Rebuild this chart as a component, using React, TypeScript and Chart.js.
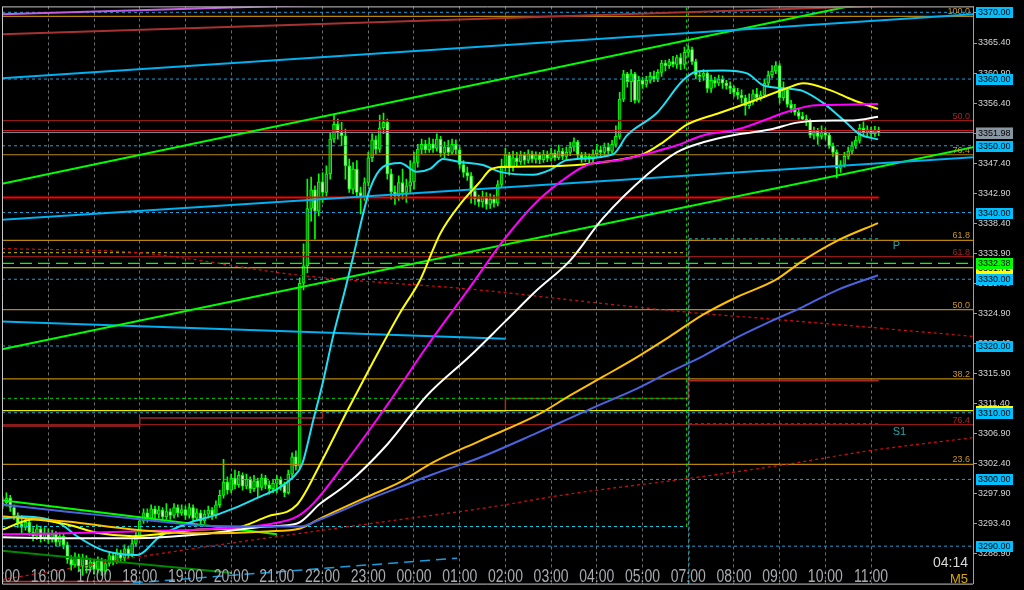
import React, { useEffect, useRef } from "react";
import { Chart, registerables } from "chart.js";

Chart.register(...registerables);

// ---------- DATA ----------
// M5 candles [open, high, low, close]; bar index 0 = 16:00, one bar every 5 min (06:00 hour absent)
const firstBar = -12;
const candles: number[][] = [
  // 15:00
  [3296.0, 3297.4, 3295.6, 3296.5], [3296.5, 3298.0, 3296.0, 3297.2], [3297.2, 3297.6, 3295.2, 3295.8], [3295.8, 3296.2, 3294.0, 3294.6],
  [3294.6, 3295.0, 3292.8, 3293.4], [3293.4, 3294.6, 3292.0, 3292.8], [3292.8, 3294.2, 3292.4, 3293.6], [3293.6, 3294.0, 3291.6, 3292.1],
  [3292.1, 3292.8, 3290.8, 3291.5], [3291.5, 3293.2, 3291.0, 3292.6], [3292.6, 3293.0, 3290.6, 3291.2], [3291.2, 3292.8, 3290.8, 3292.0],
  // 16:00
  [3292.0, 3292.6, 3290.4, 3291.0], [3291.0, 3292.4, 3290.6, 3291.8], [3291.8, 3292.2, 3290.0, 3290.6], [3290.6, 3292.0, 3290.0, 3291.5],
  [3291.5, 3291.8, 3289.6, 3290.2], [3290.2, 3290.6, 3287.4, 3288.0], [3288.0, 3288.6, 3286.4, 3287.2], [3287.2, 3289.0, 3286.8, 3288.4],
  [3288.4, 3288.8, 3286.2, 3287.0], [3287.0, 3288.8, 3285.6, 3288.2], [3288.2, 3288.6, 3286.0, 3286.8], [3286.8, 3288.2, 3286.2, 3287.6],
  // 17:00
  [3287.6, 3288.0, 3285.8, 3286.5], [3286.5, 3288.4, 3286.0, 3287.8], [3287.8, 3288.2, 3285.6, 3286.2], [3286.2, 3288.0, 3285.8, 3287.4],
  [3287.4, 3289.2, 3287.0, 3288.6], [3288.6, 3289.0, 3287.2, 3287.8], [3287.8, 3289.6, 3287.4, 3289.0], [3289.0, 3289.4, 3287.6, 3288.2],
  [3288.2, 3290.2, 3287.8, 3289.6], [3289.6, 3290.0, 3288.2, 3288.8], [3288.8, 3291.0, 3288.4, 3290.4], [3290.4, 3292.2, 3290.0, 3291.6],
  // 18:00
  [3291.6, 3294.4, 3291.2, 3293.8], [3293.8, 3295.6, 3293.4, 3295.0], [3295.0, 3295.6, 3293.6, 3294.2], [3294.2, 3296.2, 3293.8, 3295.6],
  [3295.6, 3296.0, 3294.2, 3294.8], [3294.8, 3296.0, 3294.2, 3295.4], [3295.4, 3295.8, 3293.8, 3294.4], [3294.4, 3296.4, 3294.0, 3295.2],
  [3295.2, 3295.6, 3294.0, 3294.6], [3294.6, 3296.4, 3294.2, 3295.8], [3295.8, 3296.2, 3294.4, 3295.0], [3295.0, 3296.2, 3294.6, 3295.5],
  // 19:00
  [3295.5, 3296.0, 3294.0, 3294.6], [3294.6, 3296.4, 3294.2, 3295.8], [3295.8, 3296.2, 3293.6, 3294.2], [3294.2, 3295.6, 3293.8, 3295.0],
  [3295.0, 3295.4, 3293.2, 3293.8], [3293.8, 3295.4, 3293.4, 3294.8], [3294.8, 3296.0, 3294.2, 3295.4], [3295.4, 3295.8, 3294.0, 3294.6],
  [3294.6, 3296.8, 3294.2, 3296.2], [3296.2, 3298.4, 3295.8, 3297.6], [3297.6, 3303.0, 3297.2, 3299.6], [3299.6, 3300.4, 3297.8, 3298.4],
  // 20:00
  [3298.4, 3300.8, 3298.0, 3300.2], [3300.2, 3301.4, 3298.6, 3299.2], [3299.2, 3301.2, 3298.8, 3300.6], [3300.6, 3301.0, 3298.4, 3299.0],
  [3299.0, 3300.8, 3298.6, 3300.0], [3300.0, 3300.4, 3298.0, 3298.6], [3298.6, 3300.6, 3298.2, 3299.8], [3299.8, 3300.2, 3297.4, 3298.8],
  [3298.8, 3300.8, 3298.4, 3300.2], [3300.2, 3300.6, 3298.6, 3299.2], [3299.2, 3299.8, 3297.8, 3298.6], [3298.6, 3300.0, 3298.0, 3299.4],
  // 21:00
  [3299.4, 3300.6, 3298.0, 3300.0], [3300.0, 3300.4, 3298.4, 3299.2], [3299.2, 3299.6, 3297.4, 3298.0], [3298.0, 3301.4, 3297.8, 3300.8],
  [3300.8, 3304.0, 3300.4, 3303.4], [3303.4, 3304.3, 3301.4, 3302.0], [3302.0, 3330.2, 3301.6, 3329.4], [3329.4, 3335.3, 3328.4, 3332.0],
  [3332.0, 3345.0, 3331.0, 3340.6], [3340.6, 3345.3, 3338.7, 3343.4], [3343.4, 3344.0, 3336.0, 3340.2], [3340.2, 3345.8, 3339.5, 3344.6],
  // 22:00
  [3344.6, 3346.0, 3341.5, 3343.0], [3343.0, 3347.0, 3342.5, 3345.8], [3345.8, 3352.0, 3345.0, 3351.0], [3351.0, 3354.6, 3350.5, 3353.2],
  [3353.2, 3354.0, 3351.0, 3352.0], [3352.0, 3353.5, 3350.0, 3351.5], [3351.5, 3352.5, 3345.0, 3347.0], [3347.0, 3348.0, 3343.0, 3343.5],
  [3343.5, 3347.5, 3342.8, 3346.5], [3346.5, 3347.8, 3342.2, 3343.0], [3343.0, 3343.8, 3339.8, 3342.4], [3342.4, 3345.2, 3341.8, 3344.5],
  // 23:00
  [3344.5, 3349.0, 3344.0, 3348.2], [3348.2, 3351.8, 3347.6, 3350.9], [3350.9, 3351.5, 3348.8, 3349.5], [3349.5, 3354.6, 3349.0, 3352.7],
  [3352.7, 3354.9, 3351.8, 3353.5], [3353.5, 3354.0, 3345.0, 3345.8], [3345.8, 3346.5, 3342.0, 3343.1], [3343.1, 3344.0, 3341.2, 3342.5],
  [3342.5, 3345.5, 3341.8, 3344.5], [3344.5, 3346.5, 3342.0, 3343.0], [3343.0, 3345.0, 3341.5, 3344.0], [3344.0, 3347.8, 3343.0, 3344.6],
  // 00:00
  [3344.6, 3349.0, 3343.5, 3347.5], [3347.5, 3350.2, 3346.8, 3349.5], [3349.5, 3351.0, 3348.8, 3350.2], [3350.2, 3350.8, 3348.9, 3349.4],
  [3349.4, 3351.2, 3349.0, 3350.3], [3350.3, 3351.0, 3349.0, 3349.6], [3349.6, 3351.8, 3349.2, 3351.0], [3351.0, 3351.4, 3348.4, 3348.9],
  [3348.9, 3350.6, 3348.2, 3349.8], [3349.8, 3350.8, 3348.5, 3349.0], [3349.0, 3351.0, 3348.7, 3350.2], [3350.2, 3350.9, 3348.8, 3349.4],
  // 01:00
  [3349.4, 3349.8, 3346.6, 3347.2], [3347.2, 3347.8, 3345.3, 3346.0], [3346.0, 3346.8, 3344.8, 3345.5], [3345.5, 3346.0, 3341.4, 3343.2],
  [3343.2, 3343.8, 3341.2, 3342.0], [3342.0, 3342.6, 3340.9, 3341.6], [3341.6, 3343.2, 3340.8, 3342.4], [3342.4, 3343.0, 3340.5, 3341.2],
  [3341.2, 3342.8, 3340.6, 3342.0], [3342.0, 3342.6, 3340.8, 3341.4], [3341.4, 3344.8, 3341.0, 3344.2], [3344.2, 3348.0, 3343.8, 3347.0],
  // 02:00
  [3347.0, 3349.6, 3346.2, 3348.6], [3348.6, 3349.0, 3345.6, 3346.8], [3346.8, 3349.2, 3346.2, 3348.2], [3348.2, 3349.0, 3347.0, 3347.6],
  [3347.6, 3349.2, 3347.2, 3348.6], [3348.6, 3349.0, 3347.2, 3347.8], [3347.8, 3349.4, 3347.4, 3348.8], [3348.8, 3349.2, 3347.5, 3348.0],
  [3348.0, 3349.1, 3347.4, 3348.6], [3348.6, 3349.0, 3347.3, 3347.9], [3347.9, 3349.3, 3347.5, 3348.7], [3348.7, 3349.2, 3347.6, 3348.1],
  // 03:00
  [3348.1, 3349.6, 3347.7, 3348.9], [3348.9, 3349.4, 3347.8, 3348.2], [3348.2, 3350.1, 3347.9, 3349.2], [3349.2, 3349.6, 3347.9, 3348.4],
  [3348.4, 3349.8, 3348.0, 3349.0], [3349.0, 3350.5, 3348.5, 3349.8], [3349.8, 3351.2, 3349.2, 3350.6], [3350.6, 3350.8, 3348.0, 3348.6],
  [3348.6, 3349.0, 3347.5, 3348.0], [3348.0, 3349.0, 3347.6, 3348.4], [3348.4, 3348.8, 3347.4, 3348.0], [3348.0, 3349.4, 3347.6, 3348.8],
  // 04:00
  [3348.8, 3350.2, 3348.4, 3349.4], [3349.4, 3350.0, 3348.5, 3349.0], [3349.0, 3350.4, 3348.6, 3349.8], [3349.8, 3350.4, 3348.8, 3349.2],
  [3349.2, 3350.8, 3348.9, 3350.2], [3350.2, 3353.0, 3349.8, 3351.4], [3351.4, 3358.0, 3351.0, 3357.0], [3357.0, 3361.3, 3356.6, 3360.8],
  [3360.8, 3361.0, 3358.8, 3359.6], [3359.6, 3361.4, 3356.6, 3360.8], [3360.8, 3361.0, 3356.4, 3356.8], [3356.8, 3360.4, 3356.5, 3359.8],
  // 05:00
  [3359.8, 3360.3, 3358.6, 3359.2], [3359.2, 3360.4, 3358.8, 3359.8], [3359.8, 3361.0, 3359.4, 3360.4], [3360.4, 3361.2, 3359.6, 3360.0],
  [3360.0, 3361.4, 3359.6, 3361.0], [3361.0, 3362.8, 3360.4, 3362.4], [3362.4, 3362.8, 3361.2, 3362.0], [3362.0, 3363.0, 3361.6, 3362.6],
  [3362.6, 3363.4, 3361.8, 3362.2], [3362.2, 3363.6, 3361.6, 3363.2], [3363.2, 3363.8, 3361.4, 3362.2], [3362.2, 3364.8, 3361.6, 3364.0],
  // 07:00
  [3364.0, 3365.0, 3363.4, 3364.4], [3364.4, 3364.8, 3362.2, 3362.6], [3362.6, 3363.0, 3360.0, 3360.6], [3360.6, 3361.2, 3359.6, 3360.4],
  [3360.4, 3361.4, 3359.8, 3360.9], [3360.9, 3361.2, 3358.0, 3358.6], [3358.6, 3360.6, 3358.0, 3359.8], [3359.8, 3360.3, 3358.8, 3359.4],
  [3359.4, 3360.6, 3359.0, 3360.0], [3360.0, 3360.5, 3358.6, 3359.4], [3359.4, 3359.8, 3358.5, 3359.0], [3359.0, 3359.6, 3357.8, 3358.6],
  // 08:00
  [3358.6, 3359.0, 3357.4, 3358.0], [3358.0, 3358.6, 3357.0, 3357.6], [3357.6, 3358.4, 3356.4, 3357.2], [3357.2, 3357.6, 3354.6, 3356.0],
  [3356.0, 3357.8, 3355.6, 3356.6], [3356.6, 3358.4, 3356.2, 3357.8], [3357.8, 3358.6, 3356.6, 3357.2], [3357.2, 3358.2, 3356.8, 3357.6],
  [3357.6, 3360.0, 3357.2, 3359.4], [3359.4, 3361.2, 3359.0, 3360.6], [3360.6, 3362.0, 3360.2, 3361.2], [3361.2, 3362.6, 3360.8, 3362.0],
  // 09:00
  [3362.0, 3362.3, 3356.4, 3357.2], [3357.2, 3359.6, 3356.8, 3358.4], [3358.4, 3358.8, 3355.8, 3356.2], [3356.2, 3356.8, 3355.0, 3355.6],
  [3355.6, 3356.2, 3354.6, 3355.0], [3355.0, 3355.6, 3354.0, 3354.4], [3354.4, 3355.0, 3353.6, 3354.0], [3354.0, 3354.6, 3353.0, 3353.6],
  [3353.6, 3354.0, 3351.2, 3351.6], [3351.6, 3352.8, 3351.0, 3352.2], [3352.2, 3352.6, 3350.2, 3351.4], [3351.4, 3353.0, 3351.0, 3352.0],
  // 10:00
  [3352.0, 3352.6, 3351.0, 3351.6], [3351.6, 3352.0, 3349.6, 3350.0], [3350.0, 3350.4, 3348.4, 3349.0], [3349.0, 3349.4, 3345.2, 3346.6],
  [3346.6, 3347.8, 3346.0, 3347.2], [3347.2, 3349.0, 3346.8, 3348.4], [3348.4, 3349.8, 3348.0, 3349.2], [3349.2, 3350.6, 3348.8, 3350.0],
  [3350.0, 3351.4, 3349.6, 3350.8], [3350.8, 3353.2, 3350.4, 3352.6], [3352.6, 3353.6, 3351.6, 3352.0], [3352.0, 3353.0, 3351.4, 3352.4],
  // 11:00
  [3352.4, 3352.8, 3351.2, 3351.8], [3351.8, 3352.9, 3351.4, 3352.4], [3352.4, 3352.8, 3351.5, 3351.98],
];

const hourBars = [-12, 0, 12, 24, 36, 48, 60, 72, 84, 96, 108, 120, 132, 144, 156, 168, 180, 192, 204, 216];
const hourLabels = ["15:00", "16:00", "17:00", "18:00", "19:00", "20:00", "21:00", "22:00", "23:00", "00:00",
  "01:00", "02:00", "03:00", "04:00", "05:00", "07:00", "08:00", "09:00", "10:00", "11:00"];

const priceTicks = [3288.9, 3293.4, 3297.9, 3302.4, 3306.9, 3311.4, 3315.9, 3320.4, 3324.9, 3329.4,
  3333.9, 3338.4, 3342.9, 3347.4, 3351.9, 3356.4, 3360.9, 3365.4, 3369.9];
const roundLevels = [3370, 3360, 3350, 3340, 3330, 3320, 3310, 3300, 3290];

const bidPrice = 3351.98;
const askPrice = 3352.29;
const supportLevel = 3342.25;
const greenLevel = 3332.38;
const yellowLevels = [3331.72, 3310.3];

// Fibonacci retracements
const fibGoldRange = [3281.5, 3369.4]; // 0% , 100%
const fibGoldLevels = [100, 76.4, 61.8, 50, 38.2, 23.6];
const fibRedRange = [3440.04, 3267.48]; // 0% , 100%
const fibRedLevels = [50, 61.8, 76.4];

// previous-day pivot levels (end at the session line) and current pivots
const prevOlive = 3333.99;
const prevGreen = 3312.14;
const prevCyan = 3292.95;
const sessionBar = 167.6;
const pivotStartBar = 168.2;
const pivotP = 3336.05;
const pivotS1 = 3308.3;

// H4 step indicator
const h4Bars = [-12.16, 24, 72, 120, 168, 218];
const h4Values = [3308.0, 3309.2, 3310.2, 3312.14, 3314.8, 3314.8];

// trend lines [bar, price]
const trendRedTop = [[-12.16, 3366.7], [242.8, 3371.4]];
const trendVioletTop = [[-12.16, 3369.7], [80, 3371.26]];
const trendBlueUpper = [[-12.16, 3360.1], [242.8, 3369.7]];
const trendLimeUpper = [[-12.16, 3344.3], [242.8, 3374.8]];
const trendBlueMid = [[-12.16, 3338.9], [242.8, 3348.3]];
const trendLimeLower = [[-12.16, 3319.5], [242.8, 3349.8]];
const trendBlueShort = [[-12.16, 3323.65], [120, 3321.1]];
const trendLimeBottom = [[-12.16, 3296.9], [60, 3291.8]];
const trendGreenBottom = [[-12.16, 3289.3], [48, 3286.0]];
const trendBlueDashed = [[22.2, 3284.5], [107.3, 3288.2]];
const redBottomBox = [[-12.16, 3284.7], [23.8, 3284.7]];

const envelopeUpper = [[-12.16, 3334.6], [24.08, 3333.95], [66.08, 3330.59], [113.34, 3328.38], [144.05, 3326.46],
  [166.63, 3325.13], [198.14, 3323.65], [242.8, 3321.44]];
const envelopeLower = [[-12.16, 3285.0], [4.91, 3286.6], [28.54, 3288.82], [66.08, 3291.92], [92.34, 3293.99],
  [113.34, 3295.61], [136.97, 3297.83], [166.63, 3300.04], [192.1, 3302.11], [215.7, 3304.32], [242.8, 3306.26]];

// moving averages [bar, price]
const cyanMA = [[-11.89, 3294.13], [-6.64, 3294.43], [3.07, 3293.39], [7.54, 3291.48], [13.57, 3289.56], [18.82, 3288.82],
  [23.29, 3288.67], [29.33, 3291.48], [36.41, 3293.39], [45.08, 3294.87], [53.74, 3296.94], [64.24, 3300.33], [66.61, 3302.25],
  [69.5, 3308.75], [72.12, 3314.65], [74.75, 3321.44], [77.9, 3328.38], [79.99, 3333.25], [82.62, 3339.74], [84.46, 3343.58],
  [87.87, 3346.83], [92.34, 3347.42], [96.8, 3346.09], [100.21, 3346.53], [103.63, 3348.01], [108.09, 3347.56], [114.13, 3347.12],
  [118.59, 3346.09], [127.25, 3345.65], [131.72, 3346.38], [136.18, 3347.86], [148.26, 3348.74], [151.93, 3351.55], [159.81, 3354.94],
  [166.63, 3359.81], [170.31, 3361.14], [177.14, 3361.29], [183.44, 3360.85], [187.64, 3359.08], [192.89, 3358.63], [198.14, 3358.19],
  [203.39, 3356.42], [208.65, 3353.91], [213.11, 3351.7], [217.83, 3350.96]];
const yellowMA = [[-11.89, 3292.51], [-4.02, 3293.99], [4.91, 3293.25], [13.57, 3291.92], [22.24, 3291.48], [31.16, 3291.92],
  [39.83, 3292.51], [48.49, 3292.66], [57.42, 3294.43], [65.29, 3296.2], [71.33, 3302.25], [78.42, 3310.22], [85.25, 3317.6],
  [92.34, 3324.98], [97.59, 3329.85], [102.84, 3336.79], [108.09, 3341.22], [113.34, 3344.61], [115.96, 3346.38], [119.38, 3346.83],
  [128.3, 3346.9], [138.81, 3347.12], [149.31, 3347.86], [156.13, 3348.74], [161.38, 3350.52], [167.68, 3353.17], [176.35, 3354.94],
  [185.01, 3356.71], [193.94, 3358.63], [198.14, 3359.37], [205.23, 3358.34], [211.27, 3356.86], [217.83, 3355.53]];
const magentaMA = [[-11.89, 3291.77], [4.91, 3291.92], [22.24, 3292.21], [39.83, 3292.51], [57.42, 3293.25], [65.29, 3294.43],
  [69.5, 3296.35], [78.42, 3302.84], [88.92, 3311.11], [99.42, 3319.96], [110.71, 3328.82], [119.38, 3335.76], [128.3, 3341.66],
  [136.97, 3345.65], [141.43, 3347.12], [150.09, 3347.86], [158.76, 3349.04], [165.06, 3350.07], [171.89, 3351.55], [180.81, 3352.43],
  [187.64, 3353.76], [193.94, 3355.09], [199.98, 3355.98], [205.23, 3356.12], [217.83, 3356.27]];
const whiteMA = [[-11.89, 3291.33], [4.91, 3291.18], [22.24, 3291.18], [39.83, 3291.77], [57.42, 3292.95], [65.29, 3293.39],
  [71.33, 3296.35], [78.42, 3299.3], [88.92, 3305.2], [99.42, 3312.58], [110.71, 3318.49], [119.9, 3323.65], [128.3, 3328.38],
  [136.97, 3332.8], [145.63, 3339.15], [157.18, 3345.65], [165.06, 3349.04], [171.89, 3350.52], [180.81, 3351.7], [189.48, 3352.43],
  [196.56, 3353.47], [202.6, 3353.76], [211.27, 3353.8], [217.83, 3354.35]];
const orangeMA = [[-11.89, 3294.43], [4.91, 3293.69], [22.24, 3292.51], [39.83, 3291.92], [57.42, 3292.21], [66.08, 3292.66],
  [71.33, 3294.13], [83.67, 3297.38], [92.34, 3299.59], [101.0, 3302.55], [113.34, 3305.79], [128.3, 3309.63], [136.97, 3312.58],
  [145.63, 3315.39], [154.56, 3318.34], [163.22, 3321.44], [171.89, 3324.69], [180.81, 3327.34], [190.79, 3329.85], [198.14, 3332.8],
  [207.07, 3335.76], [217.83, 3338.41]];
const blueMA = [[-11.89, 3296.2], [4.91, 3295.17], [22.24, 3294.13], [29.33, 3293.69], [39.83, 3293.1], [57.42, 3292.95],
  [66.08, 3292.95], [71.33, 3293.99], [83.67, 3296.94], [92.34, 3298.85], [101.0, 3300.77], [113.34, 3303.28], [128.3, 3306.97],
  [136.97, 3309.19], [145.63, 3311.4], [154.56, 3313.62], [163.22, 3316.13], [171.89, 3318.49], [180.81, 3321.29], [189.48, 3323.65],
  [198.14, 3325.87], [207.07, 3328.38], [217.83, 3330.59]];

const timerText = "04:14";
const periodText = "M5";

// ---------- CHART ----------
const X_MIN = -12.16;
const X_MAX = 242.76;
const Y_MIN = 3284.39;
const Y_MAX = 3370.886;
const FONT = '"Liberation Sans", Arial, sans-serif';

const GOLD = "#b8860b";
const DARKRED = "#8e1a1a";
const CYANLVL = "#1aa0dc";

const lastBar = firstBar + candles.length - 1;
const pts = (arr: number[][]) => arr.map(([x, y]) => ({ x, y }));

function lineDs(data: number[][], color: string, width: number, extra: any = {}) {
  return {
    type: "line",
    data: pts(data),
    borderColor: color,
    borderWidth: width,
    pointRadius: 0,
    fill: false,
    tension: 0,
    order: 20,
    ...extra,
  };
}
const hLine = (price: number, from: number, to: number, color: string, width: number, dash: number[] = [], order = 25) =>
  lineDs([[from, price], [to, price]], color, width, { borderDash: dash, order });
const vLine = (bar: number, p0: number, p1: number, color: string, dash: number[]) =>
  lineDs([[bar, p0], [bar, p1]], color, 1, { borderDash: dash, order: 24 });

const fibGoldPrice = (l: number) => fibGoldRange[0] + (l / 100) * (fibGoldRange[1] - fibGoldRange[0]);
const fibRedPrice = (l: number) => fibRedRange[0] + (l / 100) * (fibRedRange[1] - fibRedRange[0]);

function buildDatasets(): any[] {
  const ds: any[] = [];
  const bull = "#127a12";
  const bear = "#c6ffb4";
  ds.push({
    type: "bar",
    data: candles.map((c, i) => ({ x: firstBar + i, y: [c[2], c[1]] })),
    backgroundColor: "#00ff00",
    barThickness: 1,
    grouped: false,
    borderSkipped: false,
    order: 41,
  });
  ds.push({
    type: "bar",
    data: candles.map((c, i) => ({ x: firstBar + i, y: [c[0], c[3]] })),
    backgroundColor: candles.map((c) => (c[3] >= c[0] ? bull : bear)),
    borderColor: "#00ff00",
    borderWidth: 1,
    barThickness: 3,
    minBarLength: 1,
    grouped: false,
    borderSkipped: false,
    order: 40,
  });

  roundLevels.forEach((v) => ds.push(hLine(v, X_MIN, X_MAX, CYANLVL, 1, [3, 3], 30)));
  fibGoldLevels.forEach((l) => ds.push(hLine(fibGoldPrice(l), X_MIN, X_MAX, GOLD, 1.2)));
  fibRedLevels.forEach((l) => ds.push(hLine(fibRedPrice(l), X_MIN, X_MAX, DARKRED, 1.2)));
  ds.push(hLine(askPrice, X_MIN, X_MAX, "#d01818", 1.2));
  ds.push(hLine(bidPrice, X_MIN, X_MAX, "#7c8894", 1));
  ds.push(hLine(supportLevel, X_MIN, lastBar, "#ff0000", 2.2));
  ds.push(hLine(prevOlive, X_MIN, sessionBar, "#a8a000", 1.2, [3, 3]));
  ds.push(hLine(prevGreen, X_MIN, sessionBar, "#00b000", 1.2, [3, 3]));
  ds.push(hLine(prevCyan, X_MIN, sessionBar, "#10d0e8", 1, [3, 3]));
  ds.push(hLine(greenLevel, X_MIN, X_MAX, "#00ff00", 1.2, [12, 6]));
  yellowLevels.forEach((v) => ds.push(hLine(v, X_MIN, X_MAX, "#e8e800", 1.2)));
  ds.push(hLine(pivotP, pivotStartBar, lastBar, "#10c8e0", 1, [3, 3]));
  ds.push(hLine(pivotS1, pivotStartBar, lastBar, "#10c8e0", 1, [3, 3]));
  ds.push(lineDs(h4Bars.map((b, i) => [b, h4Values[i]]), "#a52a2a", 1.5, { stepped: "before", order: 26 }));
  ds.push(vLine(sessionBar, prevCyan, Y_MAX, "#00ff00", [3, 3]));
  ds.push(vLine(pivotStartBar, Y_MIN, pivotP, "#10c8e0", [3, 3]));

  ds.push(lineDs(trendRedTop, "#a83232", 2));
  ds.push(lineDs(trendVioletTop, "#c060e0", 2));
  ds.push(lineDs(trendBlueUpper, "#00b0f0", 2));
  ds.push(lineDs(trendLimeUpper, "#00ff00", 2));
  ds.push(lineDs(trendBlueMid, "#00b0f0", 2));
  ds.push(lineDs(trendLimeLower, "#00ff00", 2));
  ds.push(lineDs(trendBlueShort, "#00b0f0", 2));
  ds.push(lineDs(trendLimeBottom, "#00ff00", 2));
  ds.push(lineDs(trendGreenBottom, "#008800", 2));
  ds.push(lineDs(trendBlueDashed, "#1a9ce0", 1.5, { borderDash: [10, 6] }));
  ds.push(lineDs(redBottomBox, "#c03030", 1.5));
  ds.push(lineDs(envelopeUpper, "#d01010", 1.2, { borderDash: [3, 3], cubicInterpolationMode: "monotone" }));
  ds.push(lineDs(envelopeLower, "#d01010", 1.2, { borderDash: [3, 3], cubicInterpolationMode: "monotone" }));

  const ma = (d: number[][], c: string) => lineDs(d, c, 2, { cubicInterpolationMode: "monotone", order: 10 });
  ds.push(ma(blueMA, "#4a64e0"));
  ds.push(ma(orangeMA, "#ffc000"));
  ds.push(ma(whiteMA, "#ffffff"));
  ds.push(ma(magentaMA, "#ff00ff"));
  ds.push(ma(yellowMA, "#ffff00"));
  ds.push(ma(cyanMA, "#1ee0f5"));
  return ds;
}

const overlayPlugin = {
  id: "overlay",
  beforeDraw(chart: any) {
    const { ctx, width, height } = chart;
    ctx.save();
    ctx.fillStyle = "#000";
    ctx.fillRect(0, 0, width, height);
    ctx.restore();
  },
  afterDraw(chart: any) {
    const { ctx, chartArea: a } = chart;
    const xs = chart.scales.x;
    const ys = chart.scales.y;
    ctx.save();

    // fib labels
    ctx.font = `9px ${FONT}`;
    ctx.textAlign = "right";
    ctx.textBaseline = "alphabetic";
    fibGoldLevels.forEach((l) => {
      ctx.fillStyle = "#c89628";
      ctx.fillText(l.toFixed(1), a.right - 3, ys.getPixelForValue(fibGoldPrice(l)) - 2);
    });
    fibRedLevels.forEach((l) => {
      ctx.fillStyle = "#a82222";
      ctx.fillText(l.toFixed(1), a.right - 3, ys.getPixelForValue(fibRedPrice(l)) - 2);
    });

    // pivot labels
    ctx.font = `11px ${FONT}`;
    ctx.textAlign = "left";
    ctx.fillStyle = "#20a8b0";
    const px = xs.getPixelForValue(lastBar) + 14;
    ctx.fillText("P", px, ys.getPixelForValue(pivotP) + 10);
    ctx.fillText("S1", px, ys.getPixelForValue(pivotS1) + 11);

    // time labels
    ctx.save();
    ctx.beginPath();
    ctx.rect(a.left + 1, a.top, a.right - a.left - 1, a.bottom - a.top);
    ctx.clip();
    ctx.font = `14px ${FONT}`;
    ctx.textAlign = "center";
    ctx.fillStyle = "#a8acb0";
    hourBars.forEach((b, i) => {
      ctx.save();
      ctx.translate(xs.getPixelForValue(b), a.bottom - 2);
      ctx.scale(1, 1.25);
      ctx.fillText(hourLabels[i], 0, 0);
      ctx.restore();
    });
    ctx.restore();

    // timer and period
    ctx.textAlign = "right";
    ctx.font = `14px ${FONT}`;
    ctx.fillStyle = "#d8d8d8";
    ctx.fillText(timerText, a.right - 5, 567);
    ctx.font = `13px ${FONT}`;
    ctx.fillStyle = "#d8a800";
    ctx.fillText(periodText, a.right - 5, 583);

    // price boxes on the right axis
    const box = (v: number, bg: string) => {
      const y = ys.getPixelForValue(v);
      ctx.fillStyle = bg;
      ctx.fillRect(a.right + 3, Math.round(y) - 5, 37, 11);
      ctx.fillStyle = "#000";
      ctx.font = `9px ${FONT}`;
      ctx.textAlign = "left";
      ctx.textBaseline = "middle";
      ctx.fillText(v.toFixed(2), a.right + 5, Math.round(y) + 0.5);
    };
    yellowLevels.forEach((v) => box(v, "#ffff00"));
    roundLevels.forEach((v) => box(v, "#00bfff"));
    box(bidPrice, "#8896a2");
    ctx.fillStyle = "#e01010";
    ctx.fillRect(a.right + 3, Math.round(ys.getPixelForValue(bidPrice)) - 6, 37, 1);
    box(greenLevel, "#00ff00");

    // frame
    ctx.strokeStyle = "#c8c8c8";
    ctx.lineWidth = 1;
    ctx.beginPath();
    ctx.moveTo(a.right, a.top + 0.5);
    ctx.lineTo(a.left + 0.5, a.top + 0.5);
    ctx.lineTo(a.left + 0.5, a.bottom + 0.5);
    ctx.lineTo(a.right, a.bottom + 0.5);
    ctx.stroke();
    ctx.restore();
  },
};

export default function App() {
  const ref = useRef<HTMLCanvasElement>(null);
  useEffect(() => {
    document.body.style.margin = "0";
    document.body.style.background = "#000";
    const chart = new Chart(ref.current as HTMLCanvasElement, {
      type: "line",
      data: { datasets: buildDatasets() },
      options: {
        responsive: false,
        maintainAspectRatio: false,
        devicePixelRatio: 1,
        animation: false,
        events: [],
        layout: { padding: { left: 2, top: 2, right: 0, bottom: 2 } },
        plugins: { legend: { display: false }, tooltip: { enabled: false } },
        scales: {
          x: {
            type: "linear",
            min: X_MIN,
            max: X_MAX,
            offset: false,
            afterBuildTicks: (s: any) => {
              s.ticks = hourBars.map((v) => ({ value: v }));
            },
            afterFit: (s: any) => {
              s.height = 0;
            },
            ticks: { display: false },
            grid: { color: "#6c6c6c", lineWidth: 1, drawTicks: false, offset: false },
            border: { display: false, dash: [3, 3] },
          },
          y: {
            type: "linear",
            position: "right",
            min: Y_MIN,
            max: Y_MAX,
            afterBuildTicks: (s: any) => {
              s.ticks = priceTicks.map((v) => ({ value: v }));
            },
            afterFit: (s: any) => {
              s.width = 51;
            },
            ticks: {
              autoSkip: false,
              color: "#d4d4d4",
              padding: 1,
              font: { family: "Liberation Sans", size: 9 },
              callback: (v: any) => Number(v).toFixed(2),
            },
            grid: { drawOnChartArea: false, drawTicks: true, tickLength: 4, color: "#a0a0a0" },
            border: { display: true, color: "#a0a0a0", width: 1 },
          },
        },
      },
      plugins: [overlayPlugin],
    } as any);
    return () => chart.destroy();
  }, []);
  return (
    <div style={{ position: "fixed", left: 0, top: 0, width: 1024, height: 590, background: "#000" }}>
      <canvas ref={ref} width={1024} height={590} style={{ display: "block", width: 1024, height: 590 }} />
    </div>
  );
}
